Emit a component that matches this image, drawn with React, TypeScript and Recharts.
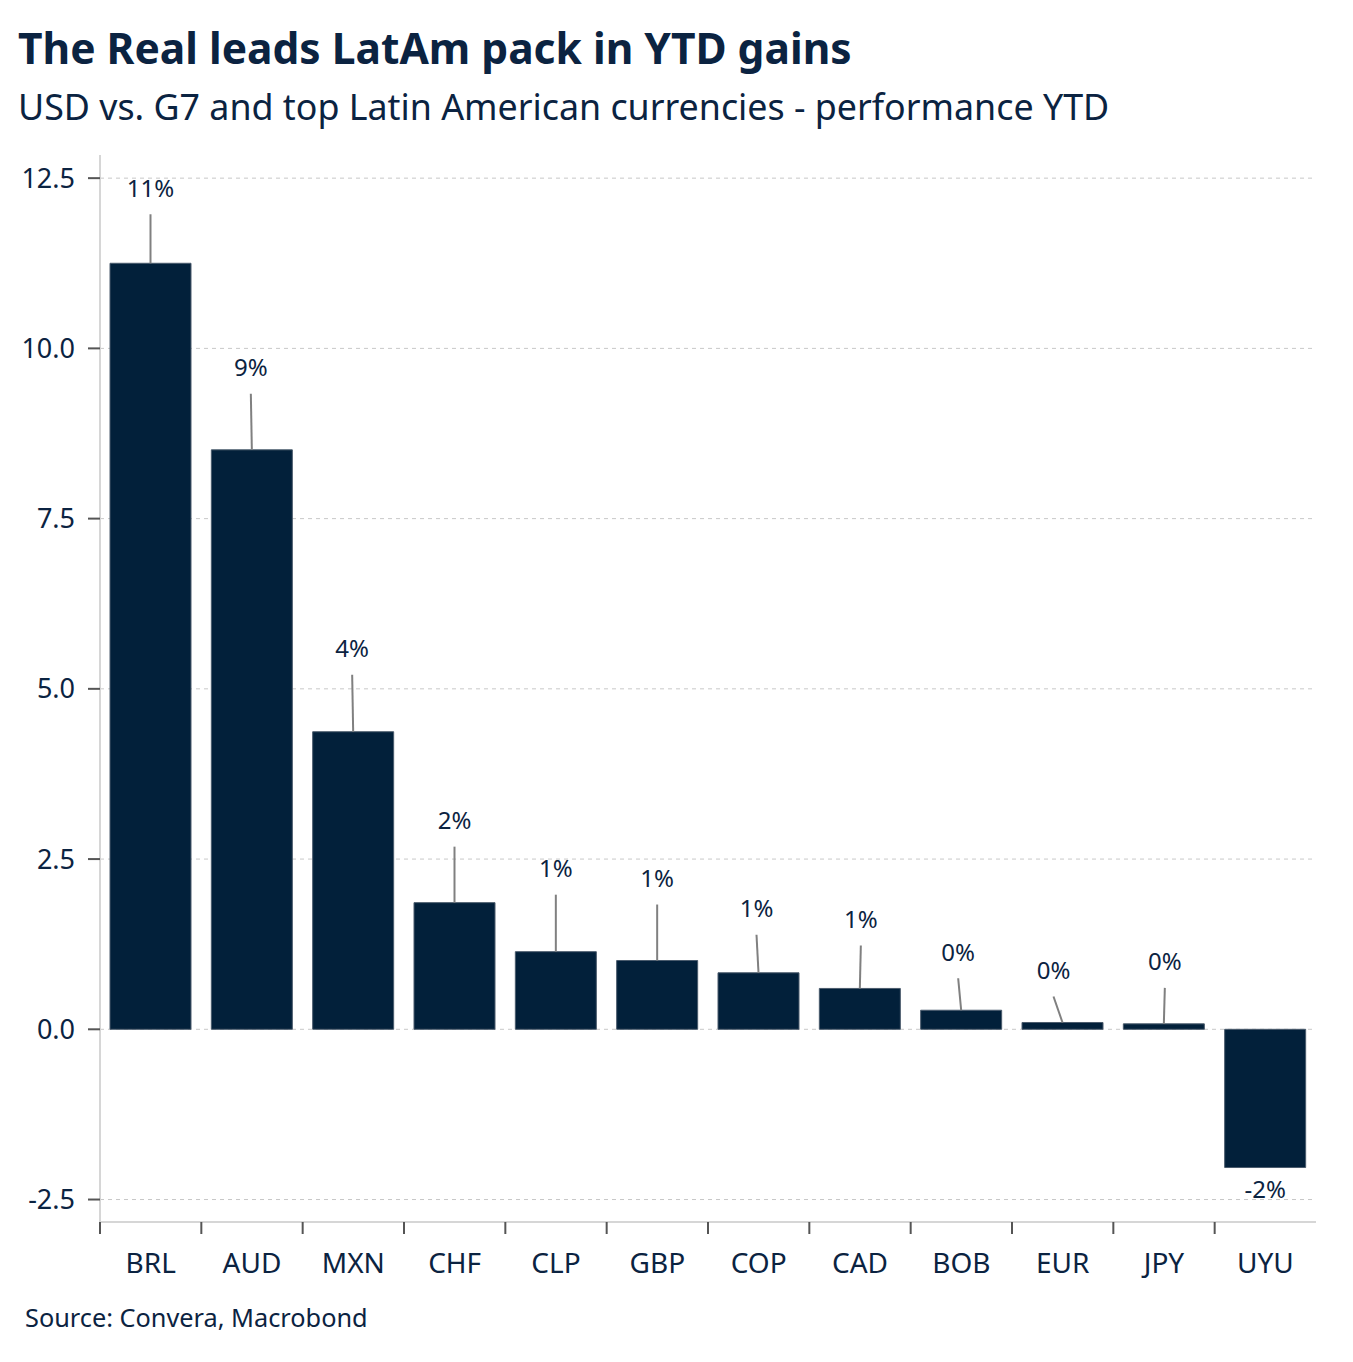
import { BarChart, Bar, XAxis, YAxis, CartesianGrid, LabelList } from 'recharts';

const currencies = ['BRL', 'AUD', 'MXN', 'CHF', 'CLP', 'GBP', 'COP', 'CAD', 'BOB', 'EUR', 'JPY', 'UYU'];
const ytdChange = [11.25, 8.51, 4.37, 1.86, 1.14, 1.01, 0.83, 0.6, 0.28, 0.1, 0.08, -2.03];
const yTicks = [-2.5, 0, 2.5, 5, 7.5, 10, 12.5];
const yDomain = [-2.83, 12.84];

// leader line lengths / label nudges (px), as in the original label placement
const leaderLength = [49, 56, 57, 56, 57, 56, 38, 43, 32, 26, 36, 0];
const labelShift = [0, -1, -1, 0, 0, 0, -2, 1, -3, -9, 1, 0];

const data = currencies.map((ccy, i) => ({ ccy, value: ytdChange[i] }));

const NAVY = '#0b2341';
const FONT = '"Noto Sans", "Open Sans", sans-serif';

function BarLabel(props: any) {
  const { x, y, width, height, value, index } = props;
  const cx = x + width / 2;
  const top = Math.min(y, y + height);
  const bottom = Math.max(y, y + height);
  const text = `${Math.round(value)}%`;
  if (value < 0) {
    return (
      <text x={cx} y={bottom + 22} textAnchor="middle" dy="0.35em" fill={NAVY} fontSize={24} fontFamily={FONT}>
        {text}
      </text>
    );
  }
  const len = leaderLength[index];
  const lx = cx + labelShift[index];
  return (
    <g>
      <line x1={cx} y1={top} x2={lx} y2={top - len} stroke="#808080" strokeWidth={2} />
      <text x={lx} y={top - len - 26} textAnchor="middle" dy="0.35em" fill={NAVY} fontSize={24} fontFamily={FONT}>
        {text}
      </text>
    </g>
  );
}

function CcyTick(props: any) {
  const { x, y, payload } = props;
  const half = payload && payload.offset ? payload.offset : 50.67;
  return (
    <g>
      <line x1={x - half} y1={y} x2={x - half} y2={y + 12} stroke="#555" strokeWidth={2} />
      <text x={x} y={y + 51} textAnchor="middle" fill={NAVY} fontSize={28} fontFamily={FONT}>
        {payload.value}
      </text>
    </g>
  );
}

function gridRows(args: any) {
  const { yAxis, offset } = args;
  if (yAxis && typeof yAxis.scale === 'function') {
    return yTicks.map((t) => yAxis.scale(t));
  }
  const span = yDomain[1] - yDomain[0];
  return yTicks.map((t) => offset.top + ((yDomain[1] - t) / span) * offset.height);
}

export default function App() {
  return (
    <div style={{ position: 'absolute', left: 0, top: 0, width: 1353, height: 1362, background: '#fff', fontFamily: FONT, color: NAVY }}>
      <div style={{ position: 'absolute', left: 18, top: 27, fontSize: 42.5, fontWeight: 700, lineHeight: 1, whiteSpace: 'nowrap' }}>
        The Real leads LatAm pack in YTD gains
      </div>
      <div style={{ position: 'absolute', left: 18, top: 89, fontSize: 35.8, lineHeight: 1, whiteSpace: 'nowrap' }}>
        USD vs. G7 and top Latin American currencies - performance YTD
      </div>
      <div style={{ position: 'absolute', left: 0, top: 0 }}>
        <BarChart
          width={1353}
          height={1362}
          data={data}
          margin={{ top: 155, right: 37, left: 0, bottom: 80 }}
          barCategoryGap={10}
        >
          <CartesianGrid
            vertical={false}
            stroke="#c8c8c8"
            strokeDasharray="4 4"
            horizontalCoordinatesGenerator={gridRows}
          />
          <XAxis
            dataKey="ccy"
            height={60}
            axisLine={{ stroke: '#d6d6d6', strokeWidth: 2 }}
            tickLine={false}
            tickSize={0}
            tickMargin={0}
            tick={<CcyTick />}
            interval={0}
          />
          <YAxis
            width={100}
            domain={yDomain}
            ticks={yTicks}
            allowDataOverflow
            tickFormatter={(v: number) => v.toFixed(1)}
            axisLine={{ stroke: '#d6d6d6', strokeWidth: 2 }}
            tickLine={{ stroke: '#555', strokeWidth: 2 }}
            tickSize={12}
            tickMargin={13}
            tick={{ fill: NAVY, fontSize: 27, fontFamily: FONT }}
          />
          <Bar dataKey="value" fill="#02203a" stroke="#4a5b6c" strokeWidth={1} isAnimationActive={false}>
            <LabelList dataKey="value" content={<BarLabel />} />
          </Bar>
        </BarChart>
      </div>
      <div style={{ position: 'absolute', left: 25, top: 1305, fontSize: 25.3, lineHeight: 1, whiteSpace: 'nowrap' }}>
        Source: Convera, Macrobond
      </div>
    </div>
  );
}
